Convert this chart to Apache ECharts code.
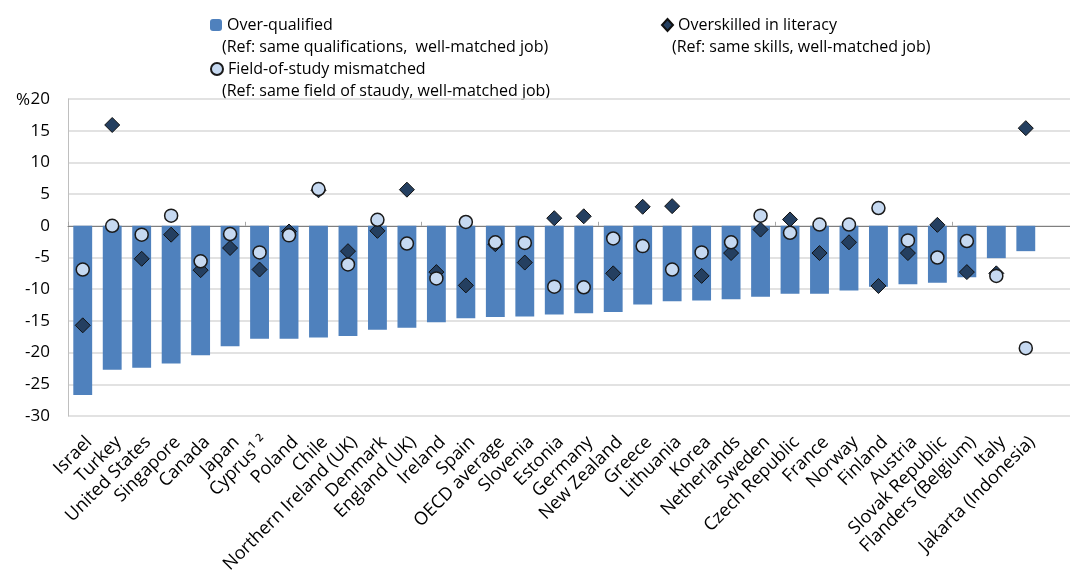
<!DOCTYPE html>
<html>
<head>
<meta charset="utf-8">
<script src="https://cdn.jsdelivr.net/npm/echarts@6/dist/echarts.min.js"></script>
<style>
  html, body { margin: 0; padding: 0; background: #fff; }
  #chart { width: 1070px; height: 586px; }
</style>
</head>
<body>
<div id="chart"></div>
<script>
// categories (last one is an empty slot, the plot runs on past Jakarta)
var countries = ['Israel', 'Turkey', 'United States', 'Singapore', 'Canada', 'Japan', 'Cyprus\u00b9 \u00b2', 'Poland', 'Chile',
    'Northern Ireland (UK)', 'Denmark', 'England (UK)', 'Ireland', 'Spain', 'OECD average', 'Slovenia', 'Estonia',
    'Germany', 'New Zealand', 'Greece', 'Lithuania', 'Korea', 'Netherlands', 'Sweden', 'Czech Republic', 'France',
    'Norway', 'Finland', 'Austria', 'Slovak Republic', 'Flanders (Belgium)', 'Italy', 'Jakarta (Indonesia)', ''];

var overQualified = [-26.7, -22.7, -22.4, -21.7, -20.4, -19.0, -17.8, -17.8, -17.6, -17.4, -16.4, -16.1, -15.2, -14.6,
    -14.4, -14.3, -14.0, -13.8, -13.6, -12.4, -11.9, -11.8, -11.6, -11.2, -10.7, -10.7, -10.2, -9.6, -9.2, -9.0, -8.1,
    -5.1, -4.0, null];

var overskilled = [-15.7, 15.9, -5.2, -1.4, -7.0, -3.5, -6.9, -0.9, 5.6, -4.0, -0.8, 5.7, -7.3, -9.4, -2.9, -5.8, 1.2,
    1.5, -7.5, 3.0, 3.1, -7.9, -4.3, -0.6, 1.0, -4.3, -2.6, -9.5, -4.3, 0.15, -7.3, -7.5, 15.4, null];

var fieldMismatch = [-6.9, 0.0, -1.4, 1.6, -5.6, -1.3, -4.2, -1.5, 5.8, -6.1, 0.95, -2.8, -8.3, 0.6, -2.6, -2.7, -9.6,
    -9.7, -2.0, -3.2, -6.9, -4.2, -2.6, 1.6, -1.1, 0.2, 0.2, 2.8, -2.3, -5.0, -2.4, -7.9, -19.3, null];

var FONT = 'Open Sans';

var chart = echarts.init(document.getElementById('chart'));

var option = {
    animation: false,
    title: {
        text: '%',
        left: 11,
        top: 87,
        textStyle: { fontFamily: FONT, fontSize: 17, fontWeight: 'normal', color: '#000' }
    },
    legend: [
        {
            data: ['Over-qualified'],
            left: 205, top: 12,
            itemWidth: 12, itemHeight: 12, itemGap: 4,
            selectedMode: false,
            textStyle: { fontFamily: FONT, fontSize: 16, color: '#000' }
        },
        {
            data: ['Field-of-study mismatched'],
            left: 205, top: 56,
            itemWidth: 12, itemHeight: 12,
            selectedMode: false,
            textStyle: { fontFamily: FONT, fontSize: 16, color: '#000' }
        },
        {
            data: ['Overskilled in literacy'],
            left: 656, top: 12,
            itemWidth: 11, itemHeight: 12,
            selectedMode: false,
            textStyle: { fontFamily: FONT, fontSize: 16, color: '#000' }
        }
    ],
    graphic: [
        { type: 'text', left: 222, top: 39, style: { text: '(Ref: same qualifications,  well-matched job)', font: '16px "Open Sans"', fill: '#000' } },
        { type: 'text', left: 222, top: 83, style: { text: '(Ref: same field of staudy, well-matched job)', font: '16px "Open Sans"', fill: '#000' } },
        { type: 'text', left: 672, top: 39, style: { text: '(Ref: same skills, well-matched job)', font: '16px "Open Sans"', fill: '#000' } }
    ],
    grid: { left: 68, right: 0, top: 99, bottom: 170 },
    xAxis: [
        {
            type: 'category',
            data: countries,
            axisLine: { onZero: true, lineStyle: { color: '#7f7f7f' } },
            axisTick: { show: true, inside: true, length: 4, lineStyle: { color: '#a6a6a6' } },
            axisLabel: { show: false },
            splitLine: { show: false }
        },
        {
            type: 'category',
            data: countries,
            position: 'bottom',
            axisLine: { show: false, onZero: false },
            axisTick: { show: false },
            axisLabel: {
                interval: 0,
                rotate: 45,
                margin: 17,
                verticalAlign: 'top',
                fontFamily: FONT,
                fontSize: 18,
                color: '#000'
            }
        }
    ],
    yAxis: {
        type: 'value',
        min: -30,
        max: 20,
        interval: 5,
        axisLine: { show: true, lineStyle: { color: '#bfbfbf' } },
        axisTick: { show: false },
        axisLabel: { fontFamily: FONT, fontSize: 17, color: '#000', margin: 18 },
        splitLine: { lineStyle: { color: '#d9d9d9', width: 1.5 } }
    },
    series: [
        {
            name: 'Over-qualified',
            type: 'bar',
            xAxisIndex: 0,
            barWidth: '64%',
            data: overQualified,
            itemStyle: { color: '#4f81bd' }
        },
        {
            name: 'Overskilled in literacy',
            type: 'scatter',
            xAxisIndex: 0,
            symbol: 'diamond',
            symbolSize: [15, 15],
            data: overskilled,
            itemStyle: { color: '#243f60', borderColor: '#111', borderWidth: 1, opacity: 1 }
        },
        {
            name: 'Field-of-study mismatched',
            type: 'scatter',
            xAxisIndex: 0,
            symbol: 'circle',
            symbolSize: 13,
            data: fieldMismatch,
            itemStyle: { color: '#c6d9f1', borderColor: '#1a1a1a', borderWidth: 1.5, opacity: 1 }
        }
    ]
};

chart.setOption(option);
</script>
</body>
</html>
